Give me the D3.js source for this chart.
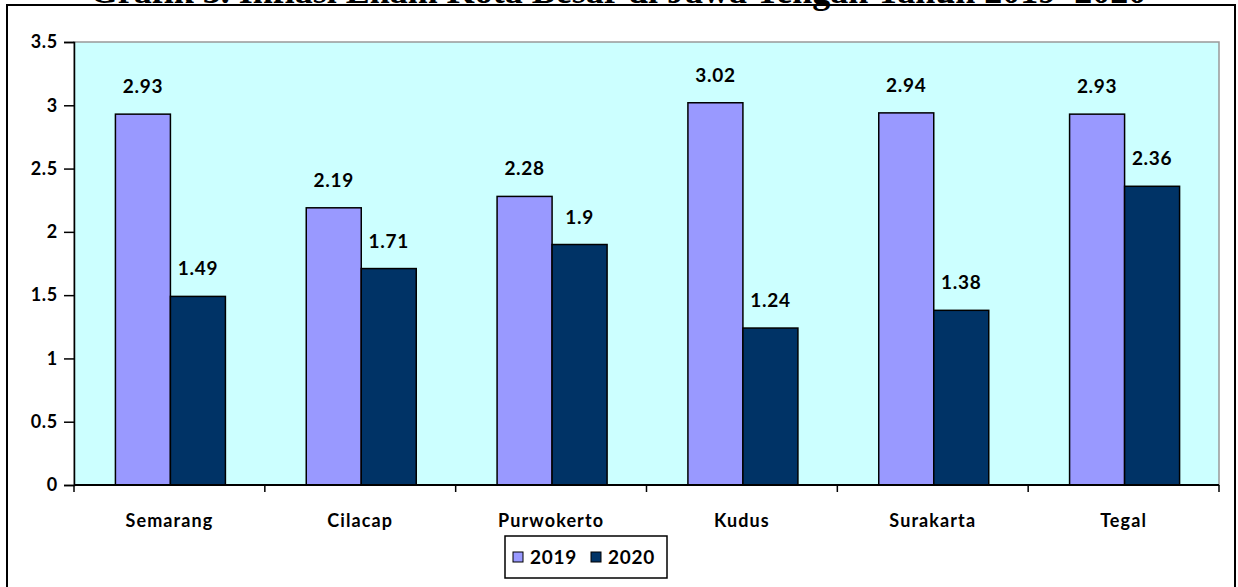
<!DOCTYPE html>
<meta charset="utf-8">
<style>
body { margin: 0; background: #fff; }
svg { display: block; }
.lbl { font-family: Lato, "Open Sans", sans-serif; font-weight: bold; }
</style>
<svg width="1238" height="587"></svg>
<script src="https://d3js.org/d3.v7.min.js"></script>
<script>

var cities = ["Semarang", "Cilacap", "Purwokerto", "Kudus", "Surakarta", "Tegal"];
var years = ["2019", "2020"];
var infl2019 = [2.93, 2.19, 2.28, 3.02, 2.94, 2.93];
var infl2020 = [1.49, 1.71, 1.9, 1.24, 1.38, 2.36];
var yTicks = [0, 0.5, 1, 1.5, 2, 2.5, 3, 3.5];
var colors = ["#9999ff", "#003366"];

var svg = d3.select("svg");

// title sits above the frame, mostly cut off like the source
svg.append("text")
    .attr("x", 618).attr("y", 3)
    .attr("text-anchor", "middle")
    .style("font-family", "'Liberation Serif', 'Times New Roman', serif")
    .style("font-weight", "bold")
    .style("font-size", "36px")
    .text("Grafik 3. Inflasi Enam Kota Besar di Jawa Tengah Tahun 2019–2020");

svg.append("rect")
    .attr("x", 7).attr("y", 5)
    .attr("width", 1228).attr("height", 600)
    .attr("fill", "none")
    .attr("stroke", "#000").attr("stroke-width", 2);

var pL = 74, pR = 1219, pT = 42, pB = 485;

var x = d3.scaleBand().domain(cities).range([pL, pR]);
var x1 = d3.scaleBand().domain(years).range([0, 110]);
var y = d3.scaleLinear().domain([0, 3.5]).range([pB, pT]);

// plot area
svg.append("rect")
    .attr("x", pL).attr("y", pT)
    .attr("width", pR - pL).attr("height", pB - pT)
    .attr("fill", "#ccffff")
    .attr("stroke", "#999").attr("stroke-width", 1.5);

var rows = cities.map(function(c, i) {
  return { city: c, vals: [infl2019[i], infl2020[i]] };
});

var grp = svg.selectAll(".grp")
  .data(rows)
  .enter().append("g")
    .attr("transform", function(d) {
      return "translate(" + (x(d.city) + x.bandwidth() / 2 - 54) + ",0)";
    });

grp.selectAll("rect")
  .data(function(d) { return d.vals.map(function(v, j) { return { v: v, yr: years[j], j: j }; }); })
  .enter().append("rect")
    .attr("x", function(d) { return x1(d.yr); })
    .attr("y", function(d) { return y(d.v); })
    .attr("width", x1.bandwidth())
    .attr("height", function(d) { return y(0) - y(d.v); })
    .attr("fill", function(d) { return colors[d.j]; })
    .attr("stroke", "#000").attr("stroke-width", 1.5);

grp.selectAll("text")
  .data(function(d) { return d.vals.map(function(v, j) { return { v: v, yr: years[j] }; }); })
  .enter().append("text")
    .attr("class", "lbl")
    .attr("x", function(d) { return x1(d.yr) + x1.bandwidth() / 2; })
    .attr("y", function(d) { return y(d.v) - 21; })
    .attr("text-anchor", "middle")
    .style("font-size", "19px")
    .style("letter-spacing", "0.7px")
    .text(function(d) { return d.v; });

// y axis
var yAxis = svg.append("g")
    .attr("transform", "translate(" + pL + ",0)")
    .call(d3.axisLeft(y).tickValues(yTicks).tickSize(10).tickPadding(6)
      .tickFormat(function(d) { return d; }));
yAxis.select(".domain").attr("stroke", "#000").attr("stroke-width", 1.5);
yAxis.selectAll(".tick line").attr("stroke", "#000").attr("stroke-width", 1.5);
yAxis.selectAll("text").attr("class", "lbl").style("font-size", "18px")
    .style("letter-spacing", "0.7px").attr("fill", "#000");

// x axis: ticks between categories
var xAxis = svg.append("g")
    .attr("transform", "translate(0," + pB + ")");
xAxis.append("line")
    .attr("x1", pL).attr("x2", pR)
    .attr("stroke", "#000").attr("stroke-width", 2);
xAxis.selectAll(".xt")
  .data(cities.concat(["end"]))
  .enter().append("line")
    .attr("x1", function(d, i) { return pL + i * x.bandwidth(); })
    .attr("x2", function(d, i) { return pL + i * x.bandwidth(); })
    .attr("y1", 0).attr("y2", 7)
    .attr("stroke", "#000").attr("stroke-width", 1.5);
xAxis.selectAll(".xl")
  .data(cities)
  .enter().append("text")
    .attr("class", "lbl")
    .attr("x", function(d) { return x(d) + x.bandwidth() / 2; })
    .attr("y", 42)
    .attr("text-anchor", "middle")
    .style("font-size", "18px")
    .style("letter-spacing", "1.1px")
    .text(function(d) { return d; });

// legend
var leg = svg.append("g").attr("transform", "translate(505,536)");
leg.append("rect")
    .attr("width", 162).attr("height", 42)
    .attr("fill", "#fff").attr("stroke", "#000").attr("stroke-width", 1.5);
var item = leg.selectAll(".it")
  .data(years)
  .enter().append("g")
    .attr("transform", function(d, i) { return "translate(" + (8 + i * 78) + ",0)"; });
item.append("rect")
    .attr("y", 16).attr("width", 10).attr("height", 10)
    .attr("fill", function(d, i) { return colors[i]; })
    .attr("stroke", "#000");
item.append("text")
    .attr("class", "lbl")
    .attr("x", 17).attr("y", 28)
    .style("font-size", "19px")
    .style("letter-spacing", "0.7px")
    .text(function(d) { return d; });

</script>
